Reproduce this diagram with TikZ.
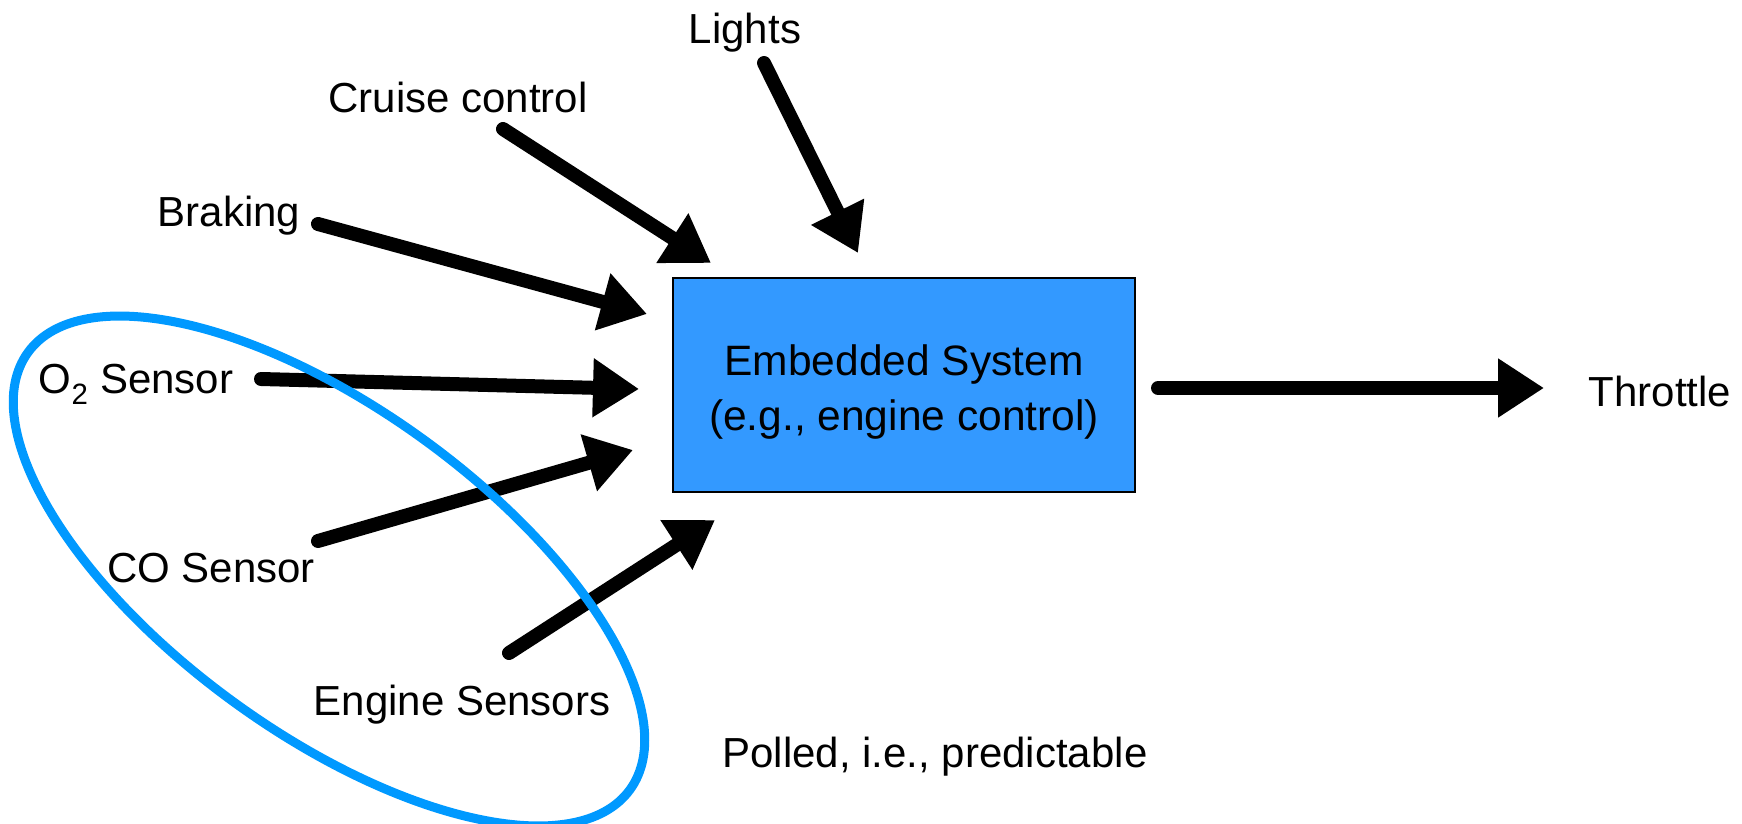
\documentclass[tikz,border=0pt]{standalone}
\usepackage{fontspec}
\setmainfont{Liberation Sans}
\usetikzlibrary{arrows.meta}
\definecolor{boxblue}{RGB}{51,153,255}
\definecolor{ringblue}{RGB}{0,153,255}
\begin{document}
\begin{tikzpicture}[x=1pt,y=-1pt,
  lbl/.style={font=\fontsize{42}{50}\selectfont, inner sep=0pt, anchor=base},
  flow/.style={line width=14pt, line cap=round, -{Triangle[length=46pt,width=56pt]}},
  sysbox/.style={draw, fill=boxblue, line width=2pt, minimum width=462pt,
    minimum height=214pt, inner sep=0pt},
  systext/.style={align=center, inner sep=0pt,
    font=\fontsize{42.5}{55}\selectfont},
  ring/.style={draw=ringblue, line width=9pt}
]
\useasboundingbox (0,0) rectangle (1742,824);

% central block and its caption
\node[sysbox] (sys) at (904,385) {};
\node[systext] (syslabel) at ([yshift=-7pt]sys.center) {Embedded System\\(e.g., engine control)};

% labels
\node[lbl] (lights)  at (745,44)  {Lights};
\node[lbl] (cruise)  at (458,113) {Cruise control};
\node[lbl] (braking) at (229,226) {Braking};
\node[lbl] (otwo)    at (136,393) {O\textsubscript{2} Sensor};
\node[lbl] (co)      at (211,582) {CO Sensor};
\node[lbl] (eng)     at (462,715) {Engine Sensors};
\node[lbl] (thr)     at (1660,406) {Throttle};
\node[lbl] (poll)    at (935,767) {Polled, i.e., predictable};

% arrow ends
\coordinate (lightsS)  at (764,63);   \coordinate (lightsT)  at (858,253);
\coordinate (cruiseS)  at (503,129);  \coordinate (cruiseT)  at (711,263);
\coordinate (brakingS) at (318,224);  \coordinate (brakingT) at (647,314);
\coordinate (otwoS)    at (261,379);  \coordinate (otwoT)    at (639,389);
\coordinate (coS)      at (318,541);  \coordinate (coT)      at (633,450);
\coordinate (engS)     at (509,653);  \coordinate (engT)     at (715,520);
\coordinate (thrS)     at (1158,388); \coordinate (thrT)     at (1544,388);

% inputs and output
\draw[flow] (lightsS)  -- (lightsT);
\draw[flow] (cruiseS)  -- (cruiseT);
\draw[flow] (brakingS) -- (brakingT);
\draw[flow] (otwoS)    -- (otwoT);
\draw[flow] (coS)      -- (coT);
\draw[flow] (engS)     -- (engT);
\draw[flow] (thrS)     -- (thrT);

% group of polled sensors
\begin{scope}[shift={(329,571)}, rotate=-36]
  \draw[ring] (0,0) ellipse [x radius=372pt, y radius=162pt];
\end{scope}
\end{tikzpicture}
\end{document}
